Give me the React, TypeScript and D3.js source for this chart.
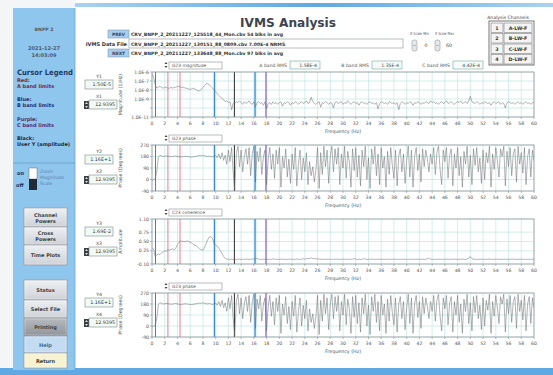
import React from 'react';
import * as d3 from 'd3';

// ---------- DATA ----------
const freqStep = 0.25;
const xTickValues = [0, 2, 4, 6, 8, 10, 12, 14, 16, 18, 20, 22, 24, 26, 28, 30, 32, 34, 36, 38, 40, 42, 44, 46, 48, 50, 52, 54, 56, 58, 60];

// log10 of G23 magnitude, every 0.25 Hz from 0 to 60 Hz
const magLog = [
  -6.2, -6.6, -7.4, -7.8, -7.7, -7.6, -7.7, -7.8, -7.7, -7.7, -7.8, -7.8, -7.7, -7.8, -7.7, -7.7,
  -7.6, -7.6, -7.7, -7.7, -7.7, -7.8, -7.8, -7.9, -7.9, -7.9, -7.8, -7.9, -8.0, -8.1, -8.1, -7.9,
  -7.7, -7.5, -7.3, -7.3, -7.4, -7.6, -7.8, -8.0, -8.2, -8.4, -8.6, -8.8, -8.9, -9.1, -9.3, -9.2,
  -9.4, -9.3, -10.2, -9.5, -9.5, -9.3, -9.4, -9.2, -9.4, -9.6, -9.3, -9.5, -9.4, -9.2, -9.5, -9.6,
  -9.3, -9.9, -9.4, -9.3, -9.5, -9.4, -9.7, -9.3, -10.1, -9.5, -9.4, -9.6, -9.3, -9.5, -9.4, -9.6,
  -9.4, -9.3, -9.8, -9.4, -9.5, -9.3, -9.4, -9.7, -9.4, -9.5, -9.3, -9.4, -9.6, -9.4, -9.3, -9.5,
  -9.4, -9.2, -9.5, -9.4, -8.8, -9.3, -9.5, -9.6, -9.4, -9.3, -9.9, -9.4, -9.5, -9.3, -9.4, -9.6,
  -9.4, -9.5, -10.0, -9.4, -9.3, -9.5, -9.4, -9.3, -9.6, -9.4, -9.5, -9.2, -9.4, -9.6, -9.4, -9.3,
  -9.5, -9.4, -9.7, -9.4, -9.3, -9.5, -9.4, -9.6, -9.4, -9.3, -9.5, -9.4, -9.6, -9.4, -10.1, -9.5,
  -9.3, -9.4, -9.5, -9.4, -9.6, -9.3, -9.4, -9.5, -9.4, -9.6, -9.4, -10.2, -9.5, -9.3, -9.4, -9.6,
  -9.4, -9.5, -9.3, -9.4, -9.7, -9.4, -9.5, -9.3, -9.4, -9.6, -9.4, -9.5, -9.3, -9.4, -9.5, -9.2,
  -9.4, -9.3, -9.5, -9.4, -9.6, -9.4, -9.3, -9.5, -9.4, -9.2, -9.5, -9.4, -9.3, -9.5, -9.6, -9.4,
  -9.3, -9.4, -9.2, -9.5, -9.4, -9.3, -9.5, -9.2, -8.7, -9.3, -9.4, -9.5, -9.3, -9.4, -9.6, -9.4,
  -9.5, -9.3, -9.4, -9.5, -9.4, -9.7, -9.4, -9.3, -9.5, -9.4, -9.3, -9.6, -9.4, -9.5, -10.0, -9.4,
  -9.3, -9.4, -9.5, -9.4, -9.6, -9.4, -9.3, -9.5, -9.4, -9.6, -9.4, -9.3, -9.5, -9.4, -9.6, -9.4,
  -9.4,
];

// G23 phase (degrees), every 0.25 Hz
const phaseDeg = [
  -10, 0, 5, 60, 175, 190, 185, 180, 182, 185, 183, 180, 178, 180, 182, 184,
  180, 178, 176, 178, 180, 182, 180, 178, 176, 175, 178, 180, 182, 186, 188, 185,
  190, 186, 182, 180, 184, 180, 176, 182, 188, 170, 200, 160, 210, 150, 190, 120,
  230, 140, 250, 60, -80, 200, 260, 100, 230, 60, 180, 240, 120, 250, 30, 200,
  260, -20, 220, 140, 250, 40, 180, 230, -40, 160, 250, 80, 200, 10, 230, 120,
  250, -60, 180, 90, 240, 20, 160, -30, 200, 80, 250, -50, 120, 230, 0, 170,
  60, 210, -40, 140, 30, 100, -20, 80, 250, -70, 210, 40, 260, 100, 230, -30,
  180, 260, 60, 240, 120, 250, -40, 200, 90, 260, 10, 220, 140, -60, 240, 70,
  250, 20, 190, -50, 230, 100, 260, 0, 170, -70, 240, 120, 260, 30, 200, -40,
  250, 90, 180, -60, 220, 40, 250, 110, 10, 230, -50, 180, 240, 60, 200, -30,
  150, 260, 20, 230, -60, 180, 250, 70, 200, -20, 240, 100, 230, 160, 60, 200,
  120, 250, 40, 210, 260, 80, -40, 230, 140, 250, 10, 190, 240, -50, 200, 90,
  250, 30, 180, -60, 220, 120, 260, 20, 190, -40, 240, 110, 250, 60, 170, -30,
  230, 0, 210, 130, 260, -60, 200, 80, 250, 150, 20, 240, 180, 260, -50, 220,
  100, 250, 30, 200, 240, -20, 260, 120, 210, 50, 250, -40, 180, 240, 20, 230,
  150,
];

// C23 coherence, every 0.25 Hz
const coherence = [
  0.33, 0.30, 0.10, 0.14, 0.17, 0.15, 0.20, 0.22, 0.25, 0.24, 0.28, 0.27, 0.29, 0.30, 0.28, 0.33,
  0.42, 0.48, 0.52, 0.50, 0.51, 0.49, 0.52, 0.50, 0.48, 0.46, 0.42, 0.40, 0.38, 0.34, 0.30, 0.28,
  0.27, 0.34, 0.45, 0.55, 0.62, 0.63, 0.58, 0.45, 0.40, 0.38, 0.32, 0.25, 0.18, 0.10, 0.05, 0.03,
  0.03, 0.02, 0.03, 0.02, 0.03, 0.02, 0.03, 0.03, 0.02, 0.03, 0.02, 0.03, 0.03, 0.02, 0.03, 0.03,
  0.03, 0.04, 0.05, 0.03, 0.02, 0.03, 0.02, 0.03, 0.03, 0.02, 0.03, 0.02, 0.04, 0.03, 0.02, 0.03,
  0.02, 0.03, 0.03, 0.02, 0.03, 0.02, 0.03, 0.03, 0.02, 0.03, 0.02, 0.03, 0.03, 0.02, 0.03, 0.04,
  0.03, 0.04, 0.05, 0.04, 0.07, 0.04, 0.05, 0.03, 0.04, 0.03, 0.03, 0.02, 0.03, 0.02, 0.03, 0.03,
  0.02, 0.03, 0.02, 0.03, 0.03, 0.02, 0.03, 0.02, 0.03, 0.03, 0.02, 0.03, 0.02, 0.03, 0.03, 0.04,
  0.03, 0.02, 0.03, 0.02, 0.03, 0.04, 0.03, 0.02, 0.03, 0.02, 0.03, 0.03, 0.02, 0.03, 0.02, 0.03,
  0.03, 0.02, 0.03, 0.02, 0.03, 0.03, 0.02, 0.03, 0.02, 0.03, 0.03, 0.02, 0.03, 0.02, 0.03, 0.03,
  0.02, 0.03, 0.02, 0.03, 0.03, 0.02, 0.03, 0.03, 0.02, 0.03, 0.03, 0.02, 0.03, 0.04, 0.06, 0.03,
  0.03, 0.02, 0.03, 0.02, 0.03, 0.03, 0.02, 0.03, 0.02, 0.03, 0.03, 0.02, 0.03, 0.02, 0.03, 0.03,
  0.02, 0.03, 0.02, 0.03, 0.03, 0.02, 0.04, 0.05, 0.10, 0.04, 0.03, 0.02, 0.03, 0.02, 0.03, 0.03,
  0.02, 0.03, 0.02, 0.03, 0.03, 0.02, 0.03, 0.02, 0.03, 0.03, 0.02, 0.03, 0.02, 0.03, 0.03, 0.02,
  0.03, 0.02, 0.03, 0.03, 0.02, 0.03, 0.02, 0.03, 0.03, 0.02, 0.03, 0.02, 0.03, 0.03, 0.02, 0.03,
  0.02,
];

// cursor lines (Hz) and their colours
const cursorFreqs = [0.55, 2.5, 4.4, 9.8, 12.94, 16.2, 17.9];
const cursorColors = ['#3b7fd4', '#e77c92', '#e77c92', '#3a8ad6', '#2a2a2a', '#63aee6', '#8a5cc8'];
const cursorWidths = [1, 1, 1, 1.3, 1, 2, 1.2];

const magTickExp = [-6, -7, -8, -9, -10, -11];
const magTickLabels = ['1.0E-6', '1.0E-7', '1.0E-8', '1.0E-9', '', '1.0E-11'];
const phaseTicks = [270, 180, 90, 0, -90];
const phaseTickLabels = ['270', '180', '90', '0', '-90'];
const cohTicks = [1.1, 0.75, 0.5, 0.25, -0.1];
const cohTickLabels = ['1.10', '0.75', '0.50', '0.25', '-0.10'];

const selectorNames = ['G23 magnitude', 'G23 phase', 'C23 coherence', 'G23 phase'];
const yAxisTitles = ['Magnitude (1/Hz)', 'Phase (Degrees)', 'Amplitude', 'Phase (Degrees)'];
const yCursorValues = ['1.50E-5', '1.16E+1', '1.69E-2', '1.16E+1'];
const xCursorValues = ['12.9395', '12.9395', '12.9395', '12.9395'];

const fileRows = [
  'CRV_BNPP_2_20211227_125518_44_Mon.cbv   54 blks in avg',
  'CRV_BNPP_2_20211227_130151_88_0809.cbv   7.00E-4 NRMS',
  'CRV_BNPP_2_20211227_133648_88_Mon.cbv   97 blks in avg',
];
const bandRmsLabels = ['A band RMS', 'B band RMS', 'C band RMS'];
const bandRmsValues = ['1.58E-4', '1.35E-4', '4.42E-4'];
const channelNums = ['1', '2', '3', '4'];
const channelNames = ['A-LW-F', 'B-LW-F', 'C-LW-F', 'D-LW-F'];
const legendItems = [
  ['Red:', 'A band limits'],
  ['Blue:', 'B band limits'],
  ['Purple:', 'C band limits'],
  ['Black:', 'User Y (amplitude)'],
];
const legendColors = ['#7a2634', '#26306e', '#5a2a6a', '#2a2a2a'];

// ---------- LAYOUT ----------
const FONT = 'DejaVu Sans, Verdana, sans-serif';
const X0 = 152;
const X1 = 534;

const panels = [
  { top: 72, bottom: 117, boxTop: 76 },
  { top: 145, bottom: 191, boxTop: 151 },
  { top: 219, bottom: 264, boxTop: 223 },
  { top: 293, bottom: 337, boxTop: 294 },
];

const freqs = magLog.map((_, i) => i * freqStep);

function Button({ x, y, w, h, lines, fill, textFill = '#3a3f46' }) {
  return (
    <g>
      <rect x={x} y={y} width={w} height={h} fill={fill} stroke="#8a9098" strokeWidth={0.6} />
      <rect x={x + 1} y={y + 1} width={w - 2} height={h - 2} fill="none" stroke="#ffffff" strokeOpacity={0.6} strokeWidth={0.5} />
      {lines.map((l, i) => (
        <text key={i} x={x + w / 2} y={y + h / 2 + 2 + (i - (lines.length - 1) / 2) * 6}
          textAnchor="middle" fontSize={5} fontWeight="bold" fill={textFill} fontFamily={FONT}>{l}</text>
      ))}
    </g>
  );
}

function Panel({ idx }) {
  const p = panels[idx];
  const x = d3.scaleLinear().domain([0, 60]).range([X0, X1]);
  let y;
  let ticks;
  let labels;
  let values;
  if (idx === 0) {
    y = d3.scaleLog().domain([1e-11, 1e-6]).range([p.bottom, p.top]);
    ticks = magTickExp.map((e) => Math.pow(10, e));
    labels = magTickLabels;
    values = magLog.map((v) => Math.pow(10, v));
  } else if (idx === 2) {
    y = d3.scaleLinear().domain([-0.1, 1.1]).range([p.bottom, p.top]);
    ticks = cohTicks;
    labels = cohTickLabels;
    values = coherence;
  } else {
    y = d3.scaleLinear().domain([-90, 270]).range([p.bottom, p.top]);
    ticks = phaseTicks;
    labels = phaseTickLabels;
    values = phaseDeg;
  }
  const line = d3.line().x((d) => x(d[0])).y((d) => y(d[1]));
  const pts = freqs.map((f, i) => [f, values[i]]);
  const clipId = `clip${idx}`;
  const midY = (p.top + p.bottom) / 2;
  return (
    <g>
      <defs>
        <clipPath id={clipId}>
          <rect x={X0} y={p.top} width={X1 - X0} height={p.bottom - p.top} />
        </clipPath>
      </defs>
      {/* selector */}
      <rect x={169} y={p.top - 10} width={53} height={7} fill="#ffffff" stroke="#8a8f96" strokeWidth={0.6} />
      <path d={`M164.5,${p.top - 8} l1.5,-2 l1.5,2 z M164.5,${p.top - 6} l1.5,2 l1.5,-2 z`} fill="#444" />
      <text x={172} y={p.top - 4.6} fontSize={4.4} fill="#555" fontFamily={FONT}>{selectorNames[idx]}</text>
      {/* plot bg */}
      <rect x={X0} y={p.top} width={X1 - X0} height={p.bottom - p.top} fill="#ffffff" />
      {/* grid */}
      {xTickValues.map((t) => (
        <line key={`gx${t}`} x1={x(t)} x2={x(t)} y1={p.top} y2={p.bottom} stroke="#b9e0da" strokeWidth={0.6} />
      ))}
      {ticks.map((t, i) => (
        <line key={`gy${i}`} x1={X0} x2={X1} y1={y(t)} y2={y(t)} stroke="#b9e0da" strokeWidth={0.6} />
      ))}
      {/* cursors */}
      {cursorFreqs.map((f, i) => (
        <line key={`c${i}`} x1={x(f)} x2={x(f)} y1={p.top} y2={p.bottom} stroke={cursorColors[i]} strokeWidth={cursorWidths[i]} />
      ))}
      {/* data */}
      <path d={line(pts)} fill="none" stroke="#66686a" strokeWidth={0.5} clipPath={`url(#${clipId})`} />
      <rect x={X0} y={p.top} width={X1 - X0} height={p.bottom - p.top} fill="none" stroke="#8d9196" strokeWidth={0.7} />
      {/* x axis */}
      {xTickValues.map((t) => (
        <g key={`xt${t}`}>
          <line x1={x(t)} x2={x(t)} y1={p.bottom} y2={p.bottom + 2} stroke="#777" strokeWidth={0.5} />
          <text x={x(t)} y={p.bottom + 7.5} fontSize={4.6} textAnchor="middle" fill="#555" fontFamily={FONT}>{t}</text>
        </g>
      ))}
      <text x={(X0 + X1) / 2} y={p.bottom + 15.5} fontSize={4.8} textAnchor="middle" fill="#555" fontFamily={FONT}>Frequency (Hz)</text>
      {/* y axis */}
      {ticks.map((t, i) => (
        <g key={`yt${i}`}>
          <line x1={X0 - 2} x2={X0} y1={y(t)} y2={y(t)} stroke="#777" strokeWidth={0.5} />
          {labels[i] && (
            <text x={X0 - 3} y={y(t) + 1.6} fontSize={4.6} textAnchor="end" fill="#555" fontFamily={FONT}>{labels[i]}</text>
          )}
        </g>
      ))}
      <text transform={`translate(122,${midY}) rotate(-90)`} fontSize={4.8} textAnchor="middle" fill="#555" fontFamily={FONT}>{yAxisTitles[idx]}</text>
      {/* Y / X cursor readouts */}
      <text x={99} y={p.boxTop + 2} fontSize={4.6} textAnchor="middle" fill="#444" fontFamily={FONT}>{`Y${idx + 1}`}</text>
      <rect x={85} y={p.boxTop + 4} width={28} height={9} fill="#f2faf6" stroke="#7d8a88" strokeWidth={0.6} />
      <text x={111} y={p.boxTop + 10.2} fontSize={4.8} textAnchor="end" fill="#333" fontFamily={FONT}>{yCursorValues[idx]}</text>
      <text x={99} y={p.boxTop + 22} fontSize={4.6} textAnchor="middle" fill="#444" fontFamily={FONT}>{`X${idx + 1}`}</text>
      <rect x={84} y={p.boxTop + 25} width={5} height={8} fill="#3a3d42" />
      <path d={`M85,${p.boxTop + 28} l1.5,-2 l1.5,2 z M85,${p.boxTop + 30} l1.5,2 l1.5,-2 z`} fill="#ddd" />
      <rect x={89} y={p.boxTop + 24} width={28} height={9} fill="#f2faf6" stroke="#7d8a88" strokeWidth={0.6} />
      <text x={115} y={p.boxTop + 30.2} fontSize={4.8} textAnchor="end" fill="#333" fontFamily={FONT}>{xCursorValues[idx]}</text>
    </g>
  );
}

export default function App() {
  const rmsX = [[255, 290], [340, 372], [420, 453]];
  return (
    <svg width={553} height={375} viewBox="0 0 553 375" style={{ position: 'absolute', left: 0, top: 0 }} fontFamily={FONT}>
      <defs>
        <linearGradient id="topbar" x1="0" x2="1" y1="0" y2="0">
          <stop offset="0" stopColor="#a9d2f0" />
          <stop offset="0.5" stopColor="#5fa9e2" />
          <stop offset="1" stopColor="#a9d2f0" />
        </linearGradient>
        <linearGradient id="btn" x1="0" x2="0" y1="0" y2="1">
          <stop offset="0" stopColor="#eef0f3" />
          <stop offset="1" stopColor="#cdd1d6" />
        </linearGradient>
        <linearGradient id="btnDark" x1="0" x2="0" y1="0" y2="1">
          <stop offset="0" stopColor="#b7bbc0" />
          <stop offset="1" stopColor="#8f949a" />
        </linearGradient>
      </defs>
      <rect x={0} y={0} width={553} height={375} fill="#f4f5f6" />
      <rect x={75} y={0} width={478} height={370} fill="#ffffff" />
      <rect x={75} y={3} width={478} height={4} fill="url(#topbar)" />
      <rect x={0} y={368} width={553} height={7} fill="#5ea8e4" />

      {/* sidebar */}
      <rect x={13} y={8} width={62} height={362} fill="#8fc6ee" />
      <line x1={75} x2={75} y1={8} y2={370} stroke="#6aa6d6" strokeWidth={0.8} />
      <text x={44} y={31} fontSize={4.6} fontWeight="bold" textAnchor="middle" fill="#4a5a6a">BNPP 2</text>
      <text x={44} y={50} fontSize={5} fontWeight="bold" textAnchor="middle" fill="#4a5a6a">2021-12-27</text>
      <text x={44} y={57} fontSize={5} fontWeight="bold" textAnchor="middle" fill="#4a5a6a">14:03:09</text>
      <text x={17} y={75} fontSize={7.5} fontWeight="bold" fill="#1d3a66" textLength={56} lengthAdjust="spacingAndGlyphs">Cursor Legend</text>
      {legendItems.map((it, i) => (
        <g key={i}>
          <text x={17} y={82 + i * 19.3} fontSize={5} fontWeight="bold" fill={legendColors[i]}>{it[0]}</text>
          <text x={17} y={88 + i * 19.3} fontSize={5} fontWeight="bold" fill={legendColors[i]}>{it[1]}</text>
        </g>
      ))}
      <line x1={13} x2={75} y1={163} y2={163} stroke="#6c9ec8" strokeWidth={0.8} />
      <text x={17} y={175} fontSize={5} fontWeight="bold" fill="#1f2f4f">on</text>
      <text x={16} y={187} fontSize={5} fontWeight="bold" fill="#1f2f4f">off</text>
      <rect x={29} y={168} width={8} height={11} fill="#ffffff" stroke="#556" strokeWidth={0.4} />
      <rect x={29} y={179} width={8} height={11} fill="#1f2a3a" />
      <text x={40} y={173} fontSize={4.6} fill="#5a7fae">Zoom</text>
      <text x={40} y={179} fontSize={4.6} fill="#5a7fae">Magnitude</text>
      <text x={40} y={185} fontSize={4.6} fill="#5a7fae">Scale</text>

      <Button x={24} y={208} w={43} h={19} lines={['Channel', 'Powers']} fill="url(#btn)" />
      <Button x={24} y={227} w={43} h={18} lines={['Cross', 'Powers']} fill="url(#btn)" />
      <Button x={24} y={245} w={43} h={20} lines={['Time Plots']} fill="url(#btn)" />
      <Button x={24} y={280} w={43} h={20} lines={['Status']} fill="url(#btn)" />
      <Button x={24} y={300} w={43} h={18} lines={['Select File']} fill="url(#btn)" />
      <Button x={24} y={318} w={43} h={18} lines={['Printing']} fill="url(#btnDark)" />
      <Button x={24} y={336} w={43} h={17} lines={['Help']} fill="#c4dcf2" textFill="#4a6a8a" />
      <Button x={24} y={353} w={43} h={15} lines={['Return']} fill="#f7f2d2" />

      {/* title */}
      <text x={288} y={27} fontSize={12} fontWeight="bold" textAnchor="middle" fill="#3c4450" textLength={96} lengthAdjust="spacingAndGlyphs">IVMS Analysis</text>

      {/* file rows */}
      <rect x={108} y={30} width={21} height={8} fill="#a9cdea" stroke="#6d8fb0" strokeWidth={0.5} />
      <text x={118.5} y={35.8} fontSize={4.4} fontWeight="bold" textAnchor="middle" fill="#2e4a78">PREV</text>
      <rect x={108} y={49} width={21} height={8} fill="#a9cdea" stroke="#6d8fb0" strokeWidth={0.5} />
      <text x={118.5} y={54.8} fontSize={4.4} fontWeight="bold" textAnchor="middle" fill="#2e4a78">NEXT</text>
      <text x={127} y={45.6} fontSize={5} fontWeight="bold" textAnchor="end" fill="#333">IVMS Data File</text>
      <rect x={129} y={39} width={274} height={9} fill="#ffffff" stroke="#8a8f96" strokeWidth={0.6} />
      {fileRows.map((r, i) => (
        <text key={i} x={131} y={36 + i * 9.6} fontSize={4.6} fontWeight="bold" fill="#333">{r}</text>
      ))}

      {/* X scale */}
      <text x={419.5} y={34.5} fontSize={4.2} textAnchor="middle" fill="#555" textLength={19} lengthAdjust="spacingAndGlyphs">X Scale Min</text>
      <text x={444.5} y={34.5} fontSize={4.2} textAnchor="middle" fill="#555" textLength={19} lengthAdjust="spacingAndGlyphs">X Scale Max</text>
      {[412, 435].map((kx) => (
        <g key={kx}>
          <rect x={kx} y={40} width={5} height={11} rx={2} fill="#e6e8ea" stroke="#888" strokeWidth={0.5} />
          <line x1={kx + 1} x2={kx + 4} y1={45.5} y2={45.5} stroke="#888" strokeWidth={0.5} />
        </g>
      ))}
      <text x={426} y={47} fontSize={4.8} textAnchor="middle" fill="#444">0</text>
      <text x={449} y={47} fontSize={4.8} textAnchor="middle" fill="#444">60</text>

      {/* analysis channels */}
      <text x={508} y={18.5} fontSize={4.6} textAnchor="middle" fill="#444">Analysis Channels</text>
      <rect x={489} y={21} width={45} height={44} fill="#ffffff" stroke="#555" strokeWidth={0.8} />
      {channelNums.map((n, i) => (
        <g key={n}>
          <rect x={491} y={23 + i * 10.5} width={12} height={9.5} fill="#f4f4f4" stroke="#666" strokeWidth={0.5} />
          <rect x={504} y={23 + i * 10.5} width={28} height={9.5} fill="#f4f4f4" stroke="#666" strokeWidth={0.5} />
          <text x={497} y={29.5 + i * 10.5} fontSize={4.8} fontWeight="bold" textAnchor="middle" fill="#333">{n}</text>
          <text x={518} y={29.5 + i * 10.5} fontSize={4.8} fontWeight="bold" textAnchor="middle" fill="#333">{channelNames[i]}</text>
        </g>
      ))}

      {/* band RMS */}
      {bandRmsLabels.map((l, i) => (
        <g key={l}>
          <text x={rmsX[i][1] - 3} y={67} fontSize={4.6} textAnchor="end" fill="#555">{l}</text>
          <rect x={rmsX[i][1]} y={61} width={30} height={8} fill="#f4fbf8" stroke="#7aa8a0" strokeWidth={0.6} />
          <text x={rmsX[i][1] + 27} y={66.6} fontSize={4.6} textAnchor="end" fill="#444">{bandRmsValues[i]}</text>
        </g>
      ))}

      {panels.map((_, i) => (
        <Panel key={i} idx={i} />
      ))}
    </svg>
  );
}
